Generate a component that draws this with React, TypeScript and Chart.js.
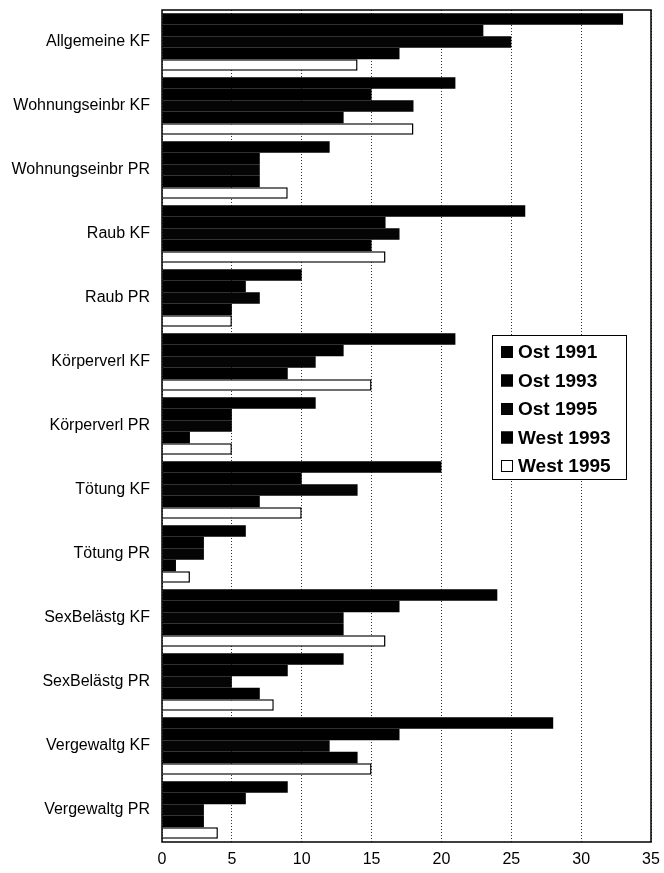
import React, { useEffect, useRef } from "react";
import { Chart, registerables } from "chart.js";

Chart.register(...registerables);

const categories = [
  "Allgemeine KF",
  "Wohnungseinbr KF",
  "Wohnungseinbr PR",
  "Raub KF",
  "Raub PR",
  "Körperverl KF",
  "Körperverl PR",
  "Tötung KF",
  "Tötung PR",
  "SexBelästg KF",
  "SexBelästg PR",
  "Vergewaltg KF",
  "Vergewaltg PR",
];

const seriesLabels = ["Ost 1991", "Ost 1993", "Ost 1995", "West 1993", "West 1995"];

const ost1991 = [33, 21, 12, 26, 10, 21, 11, 20, 6, 24, 13, 28, 9];
const ost1993 = [23, 15, 7, 16, 6, 13, 5, 10, 3, 17, 9, 17, 6];
const ost1995 = [25, 18, 7, 17, 7, 11, 5, 14, 3, 13, 5, 12, 3];
const west1993 = [17, 13, 7, 15, 5, 9, 2, 7, 1, 13, 7, 14, 3];
const west1995 = [14, 18, 9, 16, 5, 15, 5, 10, 2, 16, 8, 15, 4];

const xTicks = [0, 5, 10, 15, 20, 25, 30, 35];

const FONT = "'Liberation Sans', Arial, sans-serif";

const framePlugin = {
  id: "frame",
  afterDatasetsDraw(chart: any) {
    const { ctx, chartArea } = chart;
    ctx.save();
    ctx.setLineDash([]);
    ctx.strokeStyle = "#000";
    ctx.lineWidth = 1.5;
    ctx.strokeRect(chartArea.left, chartArea.top, chartArea.right - chartArea.left, chartArea.bottom - chartArea.top);
    ctx.restore();
  },
};

const legendPlugin = {
  id: "boxLegend",
  afterDraw(chart: any) {
    const { ctx } = chart;
    const x = 492, y = 335, w = 134, h = 144;
    ctx.save();
    ctx.setLineDash([]);
    ctx.fillStyle = "#fff";
    ctx.fillRect(x, y, w, h);
    ctx.strokeStyle = "#000";
    ctx.lineWidth = 1;
    ctx.strokeRect(x + 0.5, y + 0.5, w, h);
    ctx.font = `bold 19px ${FONT}`;
    ctx.textBaseline = "middle";
    chart.data.datasets.forEach((ds: any, i: number) => {
      const cy = y + 17 + i * 28.5;
      ctx.fillStyle = ds.backgroundColor;
      ctx.fillRect(x + 9, cy - 6, 12, 12);
      ctx.strokeStyle = "#000";
      ctx.lineWidth = 1;
      ctx.strokeRect(x + 9.5, cy - 5.5, 11, 11);
      ctx.fillStyle = "#000";
      ctx.fillText(ds.label, x + 26, cy + 1);
    });
    ctx.restore();
  },
};

export default function App() {
  const ref = useRef<HTMLCanvasElement | null>(null);
  useEffect(() => {
    document.body.style.margin = "0";
    const colors = ["#000", "#000", "#050505", "#000", "#fff"];
    const values = [ost1991, ost1993, ost1995, west1993, west1995];
    const chart = new Chart(ref.current as HTMLCanvasElement, {
      type: "bar",
      data: {
        labels: categories,
        datasets: seriesLabels.map((label, i) => ({
          label,
          data: values[i],
          backgroundColor: colors[i],
          borderColor: "#000",
          borderWidth: i === 4 ? 1.5 : 0,
          categoryPercentage: 0.9,
          barPercentage: 1.0,
        })),
      },
      options: {
        indexAxis: "y",
        animation: false,
        responsive: false,
        layout: { padding: { left: 0, right: 13, top: 10, bottom: 0 } },
        plugins: { legend: { display: false }, tooltip: { enabled: false } },
        scales: {
          x: {
            min: 0,
            max: 35,
            afterBuildTicks: (scale: any) => {
              scale.ticks = xTicks.map((v) => ({ value: v }));
            },
            afterFit: (scale: any) => {
              scale.height = 31;
              scale.paddingLeft = 0;
              scale.paddingRight = 0;
            },
            grid: { color: "#333", lineWidth: 1, drawTicks: false },
            border: { display: false, dash: [1, 2] },
            ticks: { color: "#000", font: { family: FONT, size: 16 }, padding: 8, maxRotation: 0 },
          },
          y: {
            afterFit: (scale: any) => {
              scale.width = 162;
              scale.paddingTop = 0;
              scale.paddingBottom = 0;
            },
            grid: { display: false, drawTicks: false },
            border: { display: false },
            ticks: { color: "#000", font: { family: FONT, size: 16 }, padding: 12, autoSkip: false },
          },
        },
      },
      plugins: [framePlugin, legendPlugin],
    } as any);
    return () => chart.destroy();
  }, []);
  return (
    <div style={{ width: 664, height: 873, background: "#fff" }}>
      <canvas ref={ref} width={664} height={873} />
    </div>
  );
}
